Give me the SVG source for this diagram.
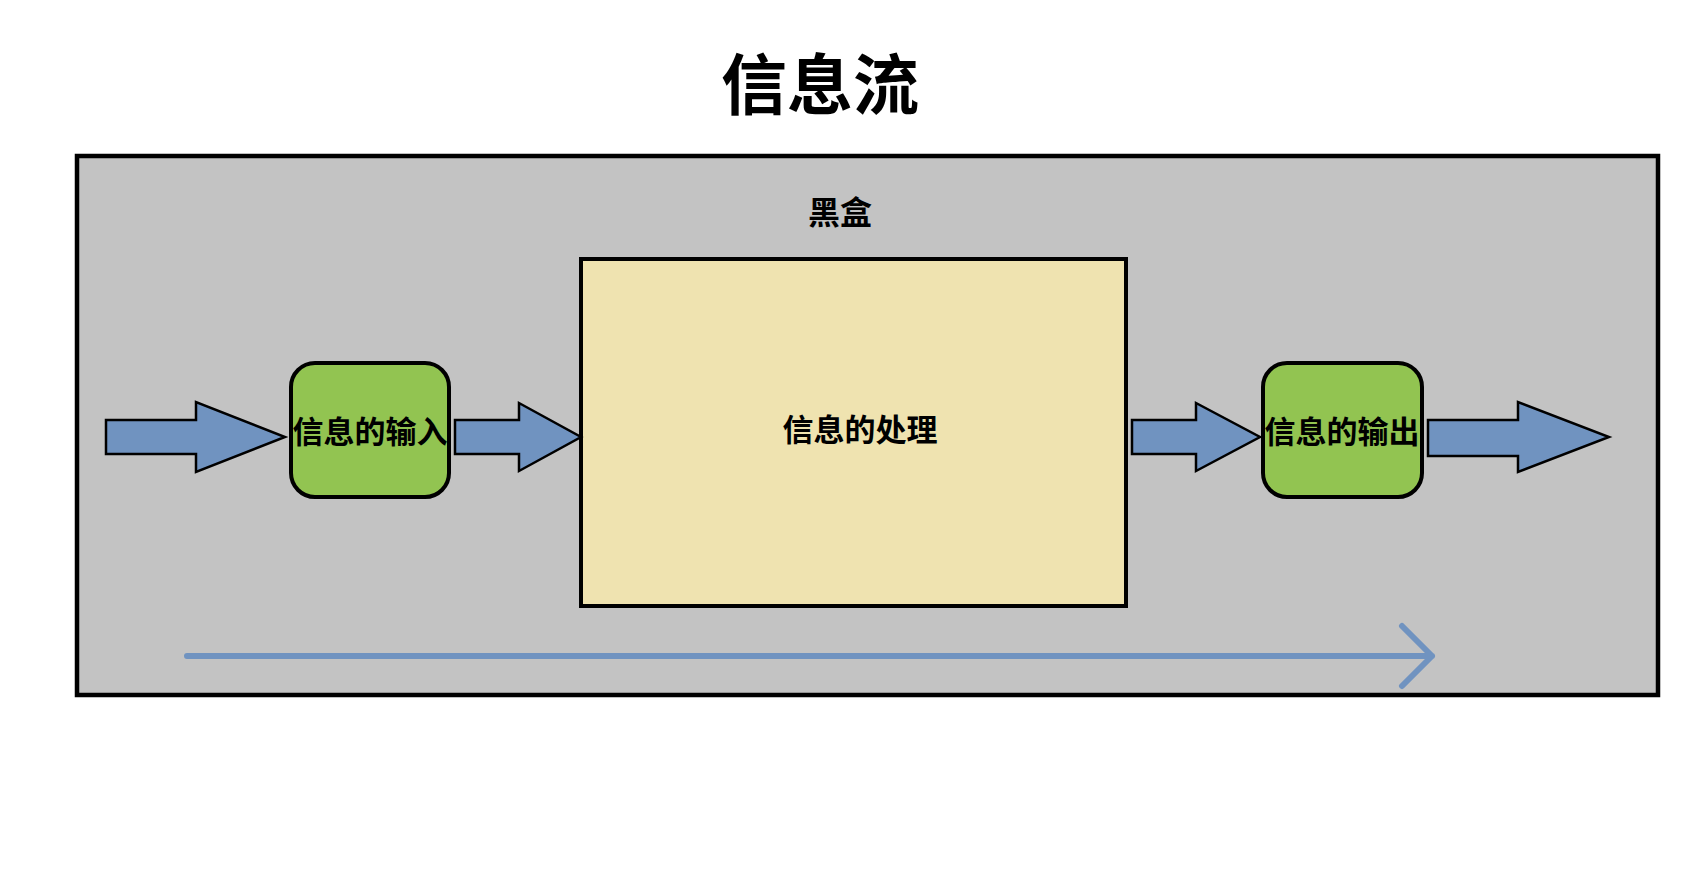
<svg xmlns="http://www.w3.org/2000/svg" width="1686" height="885" viewBox="0 0 1686 885">
<style>
.t{font-family:"Noto Sans CJK SC","Noto Sans CJK JP",sans-serif;font-weight:bold;fill:#000;text-anchor:middle;dominant-baseline:central}
.blk{fill:#7093c0;stroke:#000;stroke-width:2.5;stroke-linejoin:miter}
.green{fill:#92c451;stroke:#000;stroke-width:4}
</style>
<rect width="1686" height="885" fill="#fff"/>
<text class="t" x="820" y="80" font-size="66">信息流</text>
<g id="blackbox">
<rect x="77" y="156" width="1581" height="539" fill="#c3c3c3" stroke="#000" stroke-width="4.5"/>
<text class="t" x="840" y="210" font-size="32">黑盒</text>
</g>
<g id="process">
<rect x="581" y="259" width="545" height="347" fill="#efe3b0" stroke="#000" stroke-width="4"/>
<text class="t" x="860" y="427" font-size="31">信息的处理</text>
</g>
<g id="input">
<rect x="291" y="363" width="158" height="134" rx="24" class="green"/>
<text class="t" x="370" y="429" font-size="31">信息的输入</text>
</g>
<g id="output">
<rect x="1263" y="363" width="159" height="134" rx="24" class="green"/>
<text class="t" x="1342" y="429" font-size="31">信息的输出</text>
</g>
<g id="connectors">
<polygon class="blk" points="106,420 196,420 196,402 285,437 196,472 196,454 106,454"/>
<polygon class="blk" points="455,420 519,420 519,403 581,437 519,471 519,454 455,454"/>
<polygon class="blk" points="1132,420 1196,420 1196,403 1260,437 1196,471 1196,454 1132,454"/>
<polygon class="blk" points="1428,420 1518,420 1518,402 1609,437 1518,472 1518,456 1428,456"/>
<path d="M187,656 L1432,656 M1402,626 L1432,656 L1402,686" fill="none" stroke="#7093c0" stroke-width="6" stroke-linecap="round" stroke-linejoin="round"/>
</g>
</svg>
